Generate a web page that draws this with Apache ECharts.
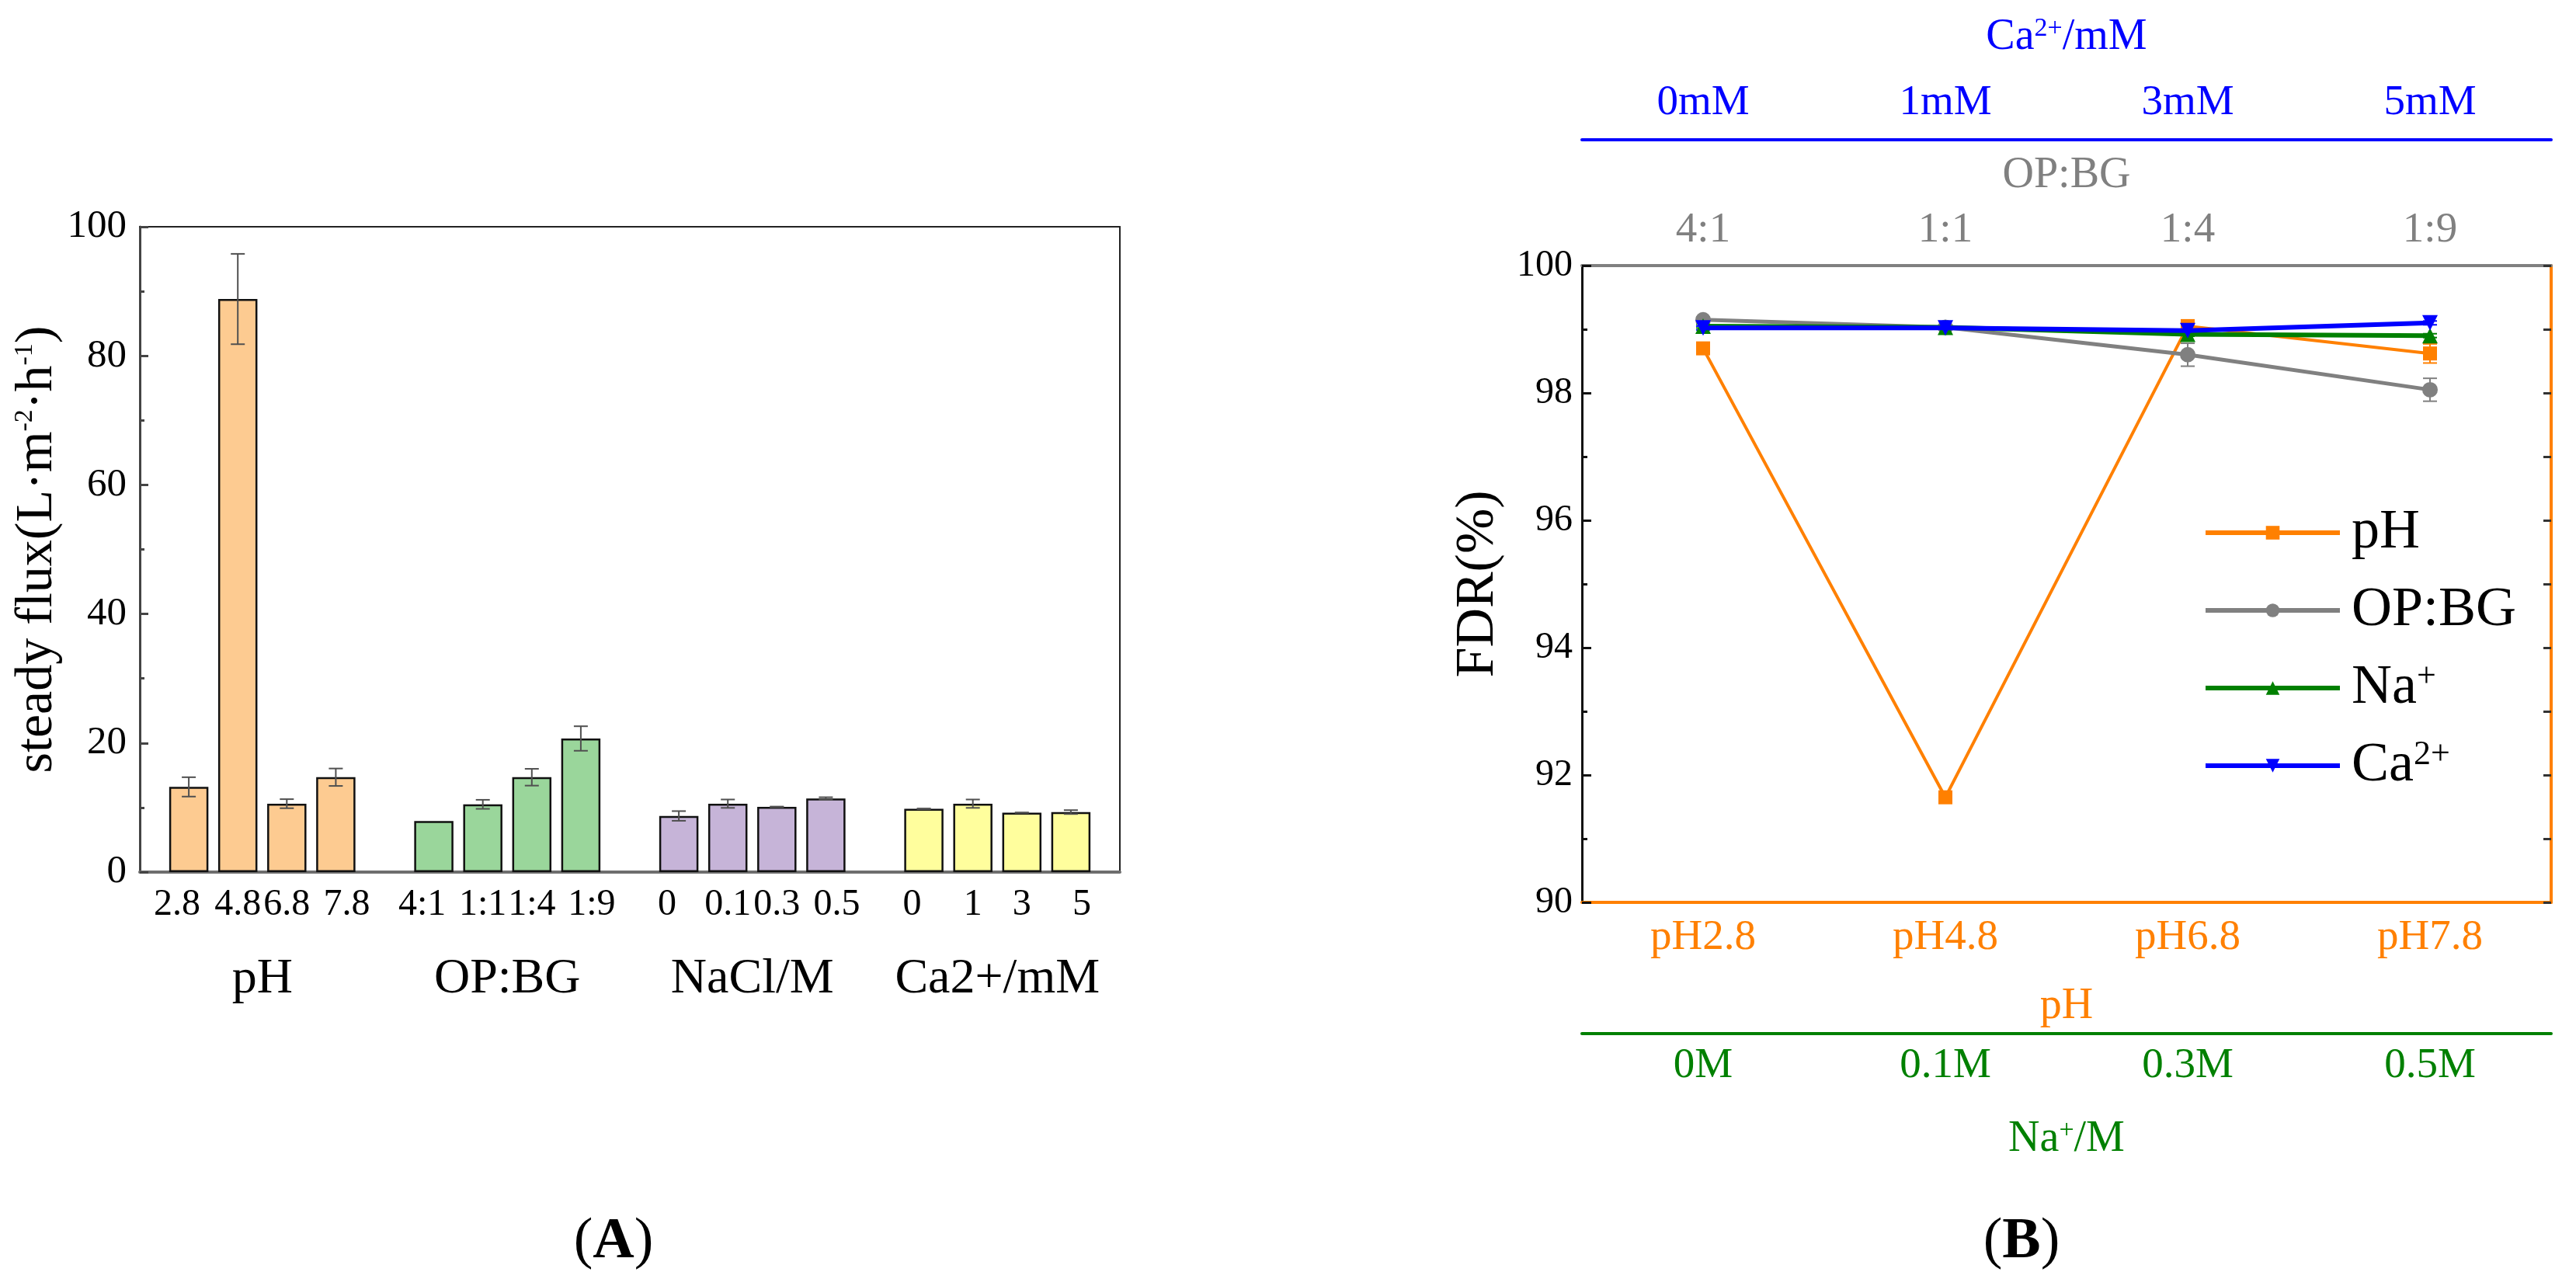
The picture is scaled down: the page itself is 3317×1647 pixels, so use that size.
<!DOCTYPE html>
<html>
<head>
<meta charset="utf-8">
<title>Steady flux and FDR</title>
<script src="https://cdn.jsdelivr.net/npm/echarts@6/dist/echarts.min.js"></script>
<style>
  html, body { margin: 0; padding: 0; background: #ffffff; }
  #main { width: 3317px; height: 1647px; }
</style>
</head>
<body>
<div id="main"></div>
<script>
// ---- panel A: steady flux bars ----
var phLabels = ['2.8', '4.8', '6.8', '7.8'];
var opbgLabels = ['4:1', '1:1', '1:4', '1:9'];
var naclLabels = ['0', '0.1', '0.3', '0.5'];
var caLabels = ['0', '1', '3', '5'];
var groupNames = ['pH', 'OP:BG', 'NaCl/M', 'Ca2+/mM'];

var phFlux = [13.2, 88.8, 10.6, 14.7];
var phFluxErr = [1.5, 7.0, 0.7, 1.35];
var opbgFlux = [7.9, 10.5, 14.7, 20.7];
var opbgFluxErr = [0, 0.7, 1.3, 1.9];
var naclFlux = [8.7, 10.6, 10.1, 11.4];
var naclFluxErr = [0.75, 0.65, 0.05, 0.2];
var caFlux = [9.8, 10.6, 9.2, 9.3];
var caFluxErr = [0.05, 0.65, 0.03, 0.3];
var barColors = ['#FDCB91', '#9AD69B', '#C6B4D8', '#FFFE9D'];

// ---- panel B: FDR lines ----
var phCats = ['pH2.8', 'pH4.8', 'pH6.8', 'pH7.8'];
var opbgCats = ['4:1', '1:1', '1:4', '1:9'];
var naCats = ['0M', '0.1M', '0.3M', '0.5M'];
var caCats = ['0mM', '1mM', '3mM', '5mM'];

var fdrPH = [98.7, 91.65, 99.05, 98.62];
var fdrPHErr = [0.05, 0.05, 0.05, 0.15];
var fdrOPBG = [99.15, 99.03, 98.6, 98.05];
var fdrOPBGErr = [0.04, 0.03, 0.18, 0.18];
var fdrNa = [99.05, 99.03, 98.92, 98.9];
var fdrNaErr = [0.03, 0.03, 0.03, 0.03];
var fdrCa = [99.02, 99.02, 98.98, 99.1];
var fdrCaErr = [0.03, 0.03, 0.03, 0.03];

var FONT = 'Liberation Serif';
var supStyle = function (size, color) {
  return { fontSize: size, verticalAlign: 'top', color: color, fontFamily: FONT };
};

// build bar positions: 4 bars per group, one empty slot between groups
var fluxGroups = [
  { labels: phLabels, vals: phFlux, errs: phFluxErr },
  { labels: opbgLabels, vals: opbgFlux, errs: opbgFluxErr },
  { labels: naclLabels, vals: naclFlux, errs: naclFluxErr },
  { labels: caLabels, vals: caFlux, errs: caFluxErr }
];
var barData = [];
var barErrData = [];
var tickText = {};
var groupText = {};
fluxGroups.forEach(function (g, gi) {
  g.vals.forEach(function (v, i) {
    var x = gi * 5 + i + 1;
    barData.push({ value: [x, v], itemStyle: { color: barColors[gi] } });
    if (g.errs[i] > 0) {
      barErrData.push([x, v - g.errs[i], v + g.errs[i]]);
    }
    // outer labels of each group sit a little outward, as in the original
    var tag = i === 0 ? 'l' : (i === g.vals.length - 1 ? 'r' : 'c');
    tickText[x] = '{' + tag + '|' + g.labels[i] + '}';
  });
  groupText[gi * 5 + 2.5] = groupNames[gi];
});

function errRender(capHalf, color, width) {
  return function (params, api) {
    var lo = api.coord([api.value(0), api.value(1)]);
    var hi = api.coord([api.value(0), api.value(2)]);
    var st = { stroke: color, lineWidth: width };
    return {
      type: 'group',
      children: [
        { type: 'line', shape: { x1: lo[0], y1: lo[1], x2: hi[0], y2: hi[1] }, style: st },
        { type: 'line', shape: { x1: lo[0] - capHalf, y1: lo[1], x2: lo[0] + capHalf, y2: lo[1] }, style: st },
        { type: 'line', shape: { x1: hi[0] - capHalf, y1: hi[1], x2: hi[0] + capHalf, y2: hi[1] }, style: st }
      ]
    };
  };
}

function errSeries(vals, errs, xIdx, color) {
  return {
    type: 'custom',
    xAxisIndex: xIdx,
    yAxisIndex: 2,
    renderItem: errRender(9, color, 2),
    data: vals.map(function (v, i) { return [i, v - errs[i], v + errs[i]]; }),
    z: 1,
    silent: true
  };
}

// category axis for panel B, plus a twin that draws the short boundary ticks
function catAxes(cats, pos, offset, color, name, nameGap, labelMargin, rich) {
  var main = {
    type: 'category',
    gridIndex: 1,
    data: cats,
    position: pos,
    offset: offset,
    axisLine: { lineStyle: { color: color, width: 4 } },
    axisTick: { alignWithLabel: true, inside: true, length: 13, lineStyle: { color: color, width: 3 } },
    axisLabel: { color: color, fontSize: 55, fontFamily: FONT, margin: labelMargin },
    splitLine: { show: false },
    name: name,
    nameLocation: 'middle',
    nameGap: nameGap,
    nameTextStyle: { color: color, fontSize: 56, fontFamily: FONT, rich: rich || {} }
  };
  var twin = {
    type: 'category',
    gridIndex: 1,
    data: cats,
    position: pos,
    offset: offset,
    axisLine: { show: false },
    axisTick: { inside: true, length: 7, lineStyle: { color: color, width: 3 } },
    axisLabel: { show: false },
    splitLine: { show: false }
  };
  return [main, twin];
}

var ORANGE = '#FF8000';
var GRAY = '#808080';
var GREEN = '#008000';
var BLUE = '#0000FF';

var bX = []
  .concat(catAxes(phCats, 'bottom', 0, ORANGE, 'pH', 106, 18))
  .concat(catAxes(naCats, 'bottom', 169, GREEN, 'Na{sup|+}/M', 108, 14, { sup: supStyle(34, GREEN) }))
  .concat(catAxes(opbgCats, 'top', 0, GRAY, 'OP:BG', 88, 18))
  .concat(catAxes(caCats, 'top', 162, BLUE, 'Ca{sup|2+}/mM', 104, 20, { sup: supStyle(34, BLUE) }));
// xAxis indices: A uses 0..2, B axes start at 3
var PH_X = 3, NA_X = 5, OP_X = 7, CA_X = 9;

var chart = echarts.init(document.getElementById('main'), null, { renderer: 'canvas' });

var panelTitle = function (letter, x) {
  return {
    text: '({b|' + letter + '})', left: x, top: 1558, textAlign: 'center',
    textStyle: { fontFamily: FONT, fontSize: 74, fontWeight: 'normal', color: '#000',
      rich: { b: { fontFamily: FONT, fontSize: 74, fontWeight: 'bold', color: '#000' } } }
  };
};

var tickRich = {
  l: { fontSize: 48, fontFamily: FONT, color: '#000', padding: [0, 30, 0, 0] },
  c: { fontSize: 48, fontFamily: FONT, color: '#000' },
  r: { fontSize: 48, fontFamily: FONT, color: '#000', padding: [0, 0, 0, 28] }
};

var option = {
  backgroundColor: '#ffffff',
  animation: false,
  textStyle: { fontFamily: FONT, color: '#000' },
  title: [panelTitle('A', 785), panelTitle('B', 2598)],
  grid: [
    { left: 180, right: 1875, top: 292, bottom: 524 },
    { left: 2037, right: 32, top: 342, bottom: 485 }
  ],
  legend: {
    orient: 'vertical',
    left: 2832,
    top: 645,
    itemWidth: 173,
    itemHeight: 22,
    itemGap: 28,
    data: ['pH', 'OP:BG', 'Na+', 'Ca2+'],
    lineStyle: { width: 6 },
    formatter: function (name) {
      return { 'pH': 'pH', 'OP:BG': 'OP:BG', 'Na+': 'Na{sup|+}', 'Ca2+': 'Ca{sup|2+}' }[name];
    },
    textStyle: {
      fontFamily: FONT, fontSize: 72, lineHeight: 72, color: '#000', padding: [0, 0, 0, 10],
      rich: { sup: supStyle(44, '#000') }
    }
  },
  xAxis: [
    {
      // A: bar positions with tick labels
      type: 'value', gridIndex: 0, min: 0, max: 20, interval: 1,
      axisLine: { onZero: false, lineStyle: { color: '#6e6e6e', width: 4 } },
      axisTick: { show: false },
      splitLine: { show: false },
      axisLabel: {
        fontSize: 48, fontFamily: FONT, color: '#000', margin: 18, rich: tickRich,
        formatter: function (v) { return tickText[v] || ''; }
      }
    },
    {
      // A: group names under each block of bars
      type: 'value', gridIndex: 0, min: 0, max: 20, interval: 2.5, position: 'bottom',
      axisLine: { show: false },
      axisTick: { show: false },
      splitLine: { show: false },
      axisLabel: {
        fontSize: 64, fontFamily: FONT, color: '#000', margin: 106,
        formatter: function (v) { return groupText[v] || ''; }
      }
    },
    {
      // A: top frame line
      type: 'value', gridIndex: 0, min: 0, max: 20, position: 'top',
      axisLine: { onZero: false, lineStyle: { color: '#222', width: 2 } },
      axisTick: { show: false }, axisLabel: { show: false }, splitLine: { show: false }
    }
  ].concat(bX),
  yAxis: [
    {
      type: 'value', gridIndex: 0, min: 0, max: 100, interval: 20,
      axisLine: { show: true, onZero: false, lineStyle: { color: '#444', width: 3 } },
      axisTick: { show: true, inside: true, length: 11, lineStyle: { color: '#444', width: 3 } },
      minorTick: { show: true, splitNumber: 2, length: 6, lineStyle: { color: '#444', width: 3 } },
      splitLine: { show: false },
      axisLabel: { fontSize: 51, fontFamily: FONT, color: '#000', margin: 17 },
      name: 'steady flux(L·m{sup|-2}·h{sup|-1})',
      nameLocation: 'middle',
      nameGap: 86,
      nameTextStyle: { fontSize: 68, fontFamily: FONT, color: '#000', rich: { sup: supStyle(34, '#000') } }
    },
    {
      // A: right frame line
      type: 'value', gridIndex: 0, min: 0, max: 100, position: 'right',
      axisLine: { show: true, onZero: false, lineStyle: { color: '#222', width: 2 } },
      axisTick: { show: false }, axisLabel: { show: false }, splitLine: { show: false }
    },
    {
      type: 'value', gridIndex: 1, min: 90, max: 100, interval: 2,
      axisLine: { show: true, onZero: false, lineStyle: { color: '#111', width: 3 } },
      axisTick: { show: true, inside: true, length: 12, lineStyle: { color: '#111', width: 3 } },
      minorTick: { show: true, splitNumber: 2, length: 7, lineStyle: { color: '#111', width: 3 } },
      splitLine: { show: false },
      axisLabel: { fontSize: 48, fontFamily: FONT, color: '#000', margin: 12 },
      name: 'FDR(%)',
      nameLocation: 'middle',
      nameGap: 98,
      nameTextStyle: { fontSize: 70, fontFamily: FONT, color: '#000' }
    },
    {
      type: 'value', gridIndex: 1, min: 90, max: 100, interval: 1, position: 'right',
      axisLine: { show: true, onZero: false, lineStyle: { color: ORANGE, width: 4 } },
      axisTick: { show: true, inside: true, length: 10, lineStyle: { color: '#333', width: 3 } },
      axisLabel: { show: false }, splitLine: { show: false }
    }
  ],
  series: [
    {
      type: 'bar',
      xAxisIndex: 0,
      yAxisIndex: 0,
      barWidth: '80%',
      itemStyle: { borderColor: '#111', borderWidth: 2.5 },
      data: barData,
      silent: true
    },
    {
      type: 'custom',
      xAxisIndex: 0,
      yAxisIndex: 0,
      renderItem: errRender(9, '#505050', 2),
      data: barErrData,
      z: 5,
      silent: true
    },
    errSeries(fdrPH, fdrPHErr, PH_X, ORANGE),
    errSeries(fdrOPBG, fdrOPBGErr, OP_X, GRAY),
    errSeries(fdrNa, fdrNaErr, NA_X, GREEN),
    errSeries(fdrCa, fdrCaErr, CA_X, BLUE),
    {
      name: 'pH', type: 'line', xAxisIndex: PH_X, yAxisIndex: 2,
      data: fdrPH, symbol: 'rect', symbolSize: 18,
      lineStyle: { color: ORANGE, width: 4 }, itemStyle: { color: ORANGE }, z: 3
    },
    {
      name: 'OP:BG', type: 'line', xAxisIndex: OP_X, yAxisIndex: 2,
      data: fdrOPBG, symbol: 'circle', symbolSize: 20,
      lineStyle: { color: GRAY, width: 5 }, itemStyle: { color: GRAY }, z: 4
    },
    {
      name: 'Na+', type: 'line', xAxisIndex: NA_X, yAxisIndex: 2,
      data: fdrNa, symbol: 'triangle', symbolSize: 20,
      lineStyle: { color: GREEN, width: 6 }, itemStyle: { color: GREEN }, z: 5
    },
    {
      name: 'Ca2+', type: 'line', xAxisIndex: CA_X, yAxisIndex: 2,
      data: fdrCa, symbol: 'path://M0,0L20,0L10,17Z', symbolSize: 20,
      lineStyle: { color: BLUE, width: 6 }, itemStyle: { color: BLUE }, z: 6
    }
  ]
};

chart.setOption(option);
</script>
</body>
</html>
